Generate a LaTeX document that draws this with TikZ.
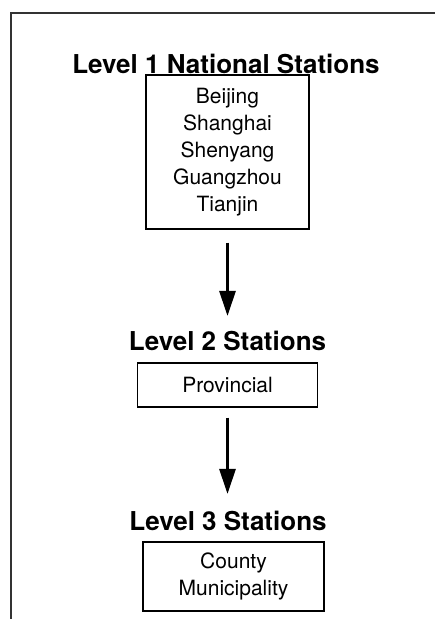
\documentclass[tikz,border=0pt]{standalone}
\usepackage{fontspec}
\setmainfont{TeX Gyre Heros}
\usetikzlibrary{arrows.meta}

\tikzset{
  levelLabel/.style={inner sep=0pt, font=\fontsize{26}{30}\selectfont\bfseries},
  stationBox/.style={rectangle, draw=black, line width=1.1pt, align=center, inner sep=0pt, font=\fontsize{21}{27}\selectfont},
  flowArrow/.style={-{Triangle[length=25pt, width=16pt]}, line width=2.8pt},
  frameLine/.style={draw=black!80, line width=1.3pt}
}

\begin{document}
\begin{tikzpicture}[x=1pt, y=-1pt]
\useasboundingbox (0,0) rectangle (435,619);
\draw[frameLine] (11,619) -- (11,13) -- (435,13);

\node[levelLabel](level1Label) at (226,64){Level 1 National Stations};
	\node[stationBox, minimum width=163pt, minimum height=154pt](nationalBox) at (227.5,152){Beijing\\Shanghai\\Shenyang\\Guangzhou\\Tianjin};

	\node[levelLabel](level2Label) at (227.5,341){Level 2 Stations};
	\node[stationBox, minimum width=180pt, minimum height=44pt](provincialBox) at (227.5,385){Provincial};

	\node[levelLabel](level3Label) at (228,521){Level 3 Stations};
	\node[stationBox, minimum width=181pt, minimum height=69pt](countyBox) at (233.5,576.5){County\\Municipality};

	\draw[flowArrow, shorten <=13pt, shorten >=15pt] (nationalBox.south) -- (level2Label.north);
	\draw[flowArrow, shorten <=10pt, shorten >=17pt] (provincialBox.south) -- (provincialBox.south |- level3Label.north);
\end{tikzpicture}
\end{document}
